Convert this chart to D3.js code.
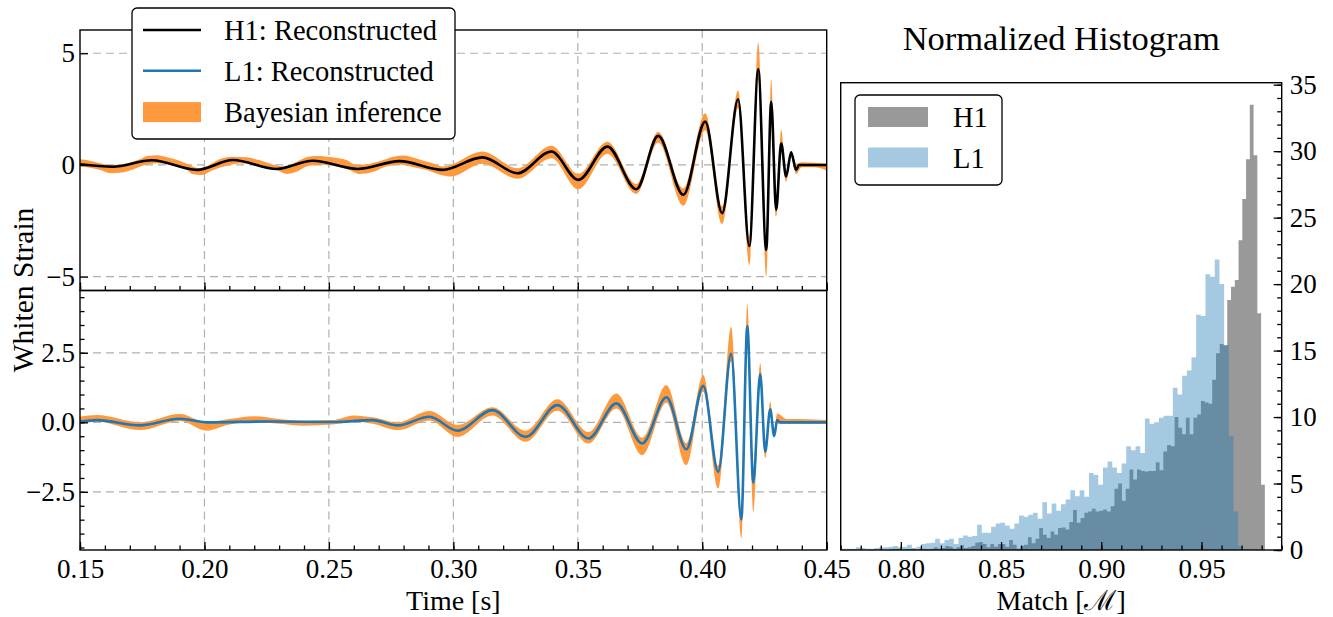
<!DOCTYPE html>
<html><head><meta charset="utf-8">
<script src="https://cdn.jsdelivr.net/npm/d3@7"></script>
<style>
body{margin:0;background:#fff;}
svg{display:block;font-family:"Liberation Serif","Times New Roman",serif;}
</style></head><body>
<svg id="c" width="1333" height="617"></svg>
<script>
// ---------------- DATA ----------------
const timeTicks = [0.15, 0.20, 0.25, 0.30, 0.35, 0.40, 0.45];
const h1YTicks = [-5, 0, 5];
const l1YTicks = [-2.5, 0, 2.5];
const histXTicks = [0.80, 0.85, 0.90, 0.95];
const histYTicks = [0, 5, 10, 15, 20, 25, 30, 35];

// H1 reconstructed waveform (extrema)
const h1T = [0.150,0.1632,0.1789,0.1970,0.2114,0.2291,0.2435,0.2616,0.2784,0.2957,0.3117,0.3258,0.3394,0.3502,0.3619,0.3735,0.3823,0.3924,0.4012,0.4080,0.4144,0.4189,0.4225,0.4257,0.4277,0.4297,0.4317,0.4337,0.4357,0.4377,0.4389,0.4500];
const h1V = [0.03,-0.08,0.21,-0.22,0.22,-0.18,0.19,-0.18,0.17,-0.22,0.34,-0.37,0.60,-0.67,0.82,-1.09,1.30,-1.34,1.94,-2.16,2.94,-3.63,4.28,-3.80,2.83,-2.01,0.97,-0.52,0.57,-0.22,0.0,0.0];
// H1 Bayesian band: upper edge
const h1BandHiT = [0.150,0.154,0.158,0.162,0.169,0.174,0.177,0.181,0.185,0.190,0.194,0.198,0.202,0.206,0.211,0.217,0.222,0.228,0.232,0.236,0.241,0.245,0.252,0.257,0.261,0.265,0.271,0.276,0.280,0.287,0.292,0.296,
  0.3117,0.3258,0.3394,0.3502,0.3619,0.3735,0.3823,0.3924,0.4012,0.4080,0.4144,0.4189,0.4225,0.4257,0.4277,0.4297,0.4317,0.4337,0.4357,0.4377,0.4400,0.4450,0.4500];
const h1BandHi = [0.25,0.19,0.08,0.00,0.08,0.25,0.40,0.43,0.34,0.19,0.00,-0.15,0.00,0.25,0.37,0.34,0.22,0.00,-0.07,0.08,0.34,0.40,0.33,0.22,0.00,0.03,0.19,0.37,0.42,0.22,0.07,-0.07,
  0.60,-0.15,0.86,-0.40,1.04,-0.85,1.49,-1.05,2.31,-1.85,3.33,-3.20,5.47,-3.30,3.84,-1.70,1.57,-0.35,0.60,0.05,0.12,0.10,0.05];
// H1 Bayesian band: lower edge
const h1BandLoT = [0.150,0.158,0.162,0.167,0.171,0.175,0.181,0.187,0.193,0.195,0.199,0.203,0.209,0.214,0.220,0.225,0.229,0.233,0.237,0.242,0.248,0.253,0.258,0.262,0.268,0.273,0.279,0.284,0.289,0.295,0.299,
  0.3117,0.3258,0.3394,0.3502,0.3619,0.3735,0.3823,0.3924,0.4012,0.4080,0.4144,0.4189,0.4225,0.4257,0.4277,0.4297,0.4317,0.4337,0.4357,0.4377,0.4400,0.4450,0.4500];
const h1BandLo = [-0.07,-0.22,-0.37,-0.34,-0.22,-0.04,0.08,0.01,-0.22,-0.40,-0.45,-0.25,-0.04,0.07,0.03,-0.07,-0.22,-0.40,-0.30,-0.04,0.01,-0.07,-0.22,-0.40,-0.30,-0.07,0.01,-0.10,-0.22,-0.45,-0.52,
  0.05,-0.62,0.30,-1.09,0.50,-1.30,1.00,-1.83,1.55,-2.64,2.55,-4.48,3.80,-5.01,2.40,-2.31,0.70,-0.75,0.35,-0.40,-0.10,-0.10,-0.25];

// L1 reconstructed waveform
const l1T = [0.150,0.1568,0.1741,0.1901,0.2010,0.2262,0.2515,0.2676,0.2776,0.2904,0.3017,0.3157,0.3290,0.3418,0.3543,0.3655,0.3759,0.3856,0.3936,0.4004,0.4064,0.4116,0.4157,0.4181,0.4205,0.4233,0.4253,0.4273,0.4289,0.4301,0.4313,0.4500];
const l1V = [0.02,0.08,-0.11,0.13,0.0,0.03,0.01,0.08,-0.11,0.20,-0.30,0.44,-0.52,0.62,-0.58,0.68,-0.76,0.90,-0.97,1.31,-1.78,2.46,-3.49,3.46,-2.17,1.74,-1.06,0.47,-0.49,0.08,0.0,0.0];
// L1 Bayesian band
const l1BandT  = [0.150,0.1568,0.1741,0.1901,0.2010,0.2100,0.2200,0.2300,0.2400,0.2515,0.2600,0.2676,0.2776,0.2904,0.3017,0.3157,0.3290,0.3418,0.3543,0.3655,0.3759,0.3856,0.3936,0.4004,0.4064,0.4116,0.4157,0.4181,0.4205,0.4233,0.4253,0.4273,0.4289,0.4301,0.4340,0.4400,0.4450,0.4500];
const l1BandHi = [0.20,0.26,0.00,0.30,0.00,0.12,0.22,0.12,0.05,0.08,0.25,0.18,0.00,0.41,-0.10,0.54,-0.30,0.83,-0.35,1.04,-0.55,1.34,-0.75,1.70,-1.55,3.44,-3.20,4.26,-1.90,2.12,-0.85,0.74,-0.30,0.32,0.12,0.12,0.10,0.08];
const l1BandLo = [-0.04,0.02,-0.28,0.05,-0.30,-0.08,0.00,-0.05,-0.12,-0.08,0.02,-0.05,-0.28,0.07,-0.52,0.25,-0.70,0.42,-0.76,0.50,-1.18,0.70,-1.54,1.10,-2.37,2.20,-4.17,3.15,-3.22,1.50,-1.29,0.30,-0.52,-0.05,-0.05,-0.05,-0.05,-0.05];

// Normalized histograms of the match
const h1HistStart = 0.7940, h1HistWidth = 0.001876;
const h1Hist = [0.05,0.1,0.1,0,0.05,0.05,0.1,0,0.05,0.1,
  0.05,0.1,0.2,0.1,0.15,0.3,0.25,0.1,0.2,0.35,
  0.15,0.2,0.3,0.55,0.6,0.45,
  0.2,0.45,0.25,0.45,0.45,0.25,0.75,0.4,0.1,0.3,
  0.4,0.95,0.5,0.85,1.65,1.15,0.9,1.4,1.15,1.65,
  1.7,1.55,2.1,3.0,2.05,2.4,2.8,2.9,3.1,2.9,
  2.95,3.05,2.9,3.3,4.6,5.0,3.7,4.6,6.05,
  5.3,6.05,5.95,5.9,5.95,5.95,6.6,6.0,7.4,7.9,
  7.8,10.0,9.2,8.7,9.95,8.7,9.95,10.2,11.2,11.1,
  11.0,12.8,14.8,15.5,15.4,18.8,19.8,20.3,23.3,26.4,
  29.4,33.5,29.7,17.8,4.9];
const l1HistStart = 0.7683, l1HistWidth = 0.002325;
const l1Hist = [0.1,0.1,0.1,0.1,0.2,0.15,0.1,0.1,0.15,0.2,
  0.2,0.25,0.3,0.2,0.25,0.4,0.15,0.25,0.45,0.5,
  0.55,0.85,0.5,0.75,0.85,0.45,0.9,1.1,1.0,1.05,
  1.9,1.3,1.3,1.75,2.0,2.05,1.85,1.6,2.0,2.6,
  2.5,2.65,2.8,2.35,3.6,2.75,3.5,2.95,3.45,3.8,
  4.5,4.05,4.5,4.0,5.8,5.65,4.9,6.2,6.65,6.2,
  5.8,6.5,7.8,7.5,7.8,7.3,9.9,9.5,9.6,9.95,
  10.1,10.1,12.2,11.7,13.1,13.5,14.5,17.7,17.6,20.75,
  20.55,21.85,20.0,15.4,8.6,2.9,0.3];

// ---------------- STYLE / LAYOUT ----------------
const ORANGE = "#ff993e", BLUE = "#1f77b4";
const TICK_FS = 27, LAB_FS = 28, LEG_FS = 28.5, YLAB_FS = 29.5, TITLE_FS = 34.5;
const svg = d3.select("#c");
const L = 80, R = 826.7, T1 = 30, MID = 290.5, B = 550;
const HL = 840.7, HR = 1281.7, HT = 82.7;

const xT = d3.scaleLinear().domain([0.15, 0.45]).range([L, R]);
const yTop = d3.scaleLinear().domain([-5.62, 6.04]).range([MID, T1]);
const yBot = d3.scaleLinear().domain([-4.59, 4.74]).range([B, MID]);
const xH = d3.scaleLinear().domain([0.77, 0.99]).range([HL, HR]);
const yH = d3.scaleLinear().domain([0, 35.15]).range([B, HT]);

const defs = svg.append("defs");
function clip(id, x, y, w, h) {
  defs.append("clipPath").attr("id", id).append("rect").attr("x", x).attr("y", y).attr("width", w).attr("height", h);
}
clip("cTop", L, T1, R - L, MID - T1);
clip("cBot", L, MID, R - L, B - MID);
clip("cHist", HL, HT, HR - HL, B - HT);

// grids
function grid(ys, yTicks, y0, y1) {
  const gg = svg.append("g").attr("stroke", "#b0b0b0").attr("stroke-width", 1.2).attr("stroke-dasharray", "8,5");
  timeTicks.slice(1, -1).forEach(t => gg.append("line").attr("x1", xT(t)).attr("x2", xT(t)).attr("y1", y0).attr("y2", y1));
  yTicks.forEach(v => gg.append("line").attr("x1", L).attr("x2", R).attr("y1", ys(v)).attr("y2", ys(v)));
}
grid(yTop, h1YTicks, T1, MID);
grid(yBot, l1YTicks, MID, B);

// waveform panels: band = area under upper edge, masked to remove area under lower edge
function panel(id, clipId, ys, y0, y1, hiT, hi, loT, lo, wT, wV, color) {
  const yBottom = y1 + 20;
  const mask = defs.append("mask").attr("id", id).attr("maskUnits", "userSpaceOnUse")
    .attr("x", L - 10).attr("y", y0 - 10).attr("width", R - L + 20).attr("height", y1 - y0 + 40);
  mask.append("rect").attr("x", L - 10).attr("y", y0 - 10).attr("width", R - L + 20).attr("height", y1 - y0 + 40).attr("fill", "#fff");
  const loPts = loT.map((t, i) => ({t, v: lo[i]}));
  mask.append("path").datum(loPts).attr("fill", "#000")
    .attr("d", d3.area().x(d => xT(d.t)).y0(yBottom).y1(d => ys(d.v)).curve(d3.curveMonotoneX));
  const g = svg.append("g").attr("clip-path", `url(#${clipId})`);
  const hiPts = hiT.map((t, i) => ({t, v: hi[i]}));
  g.append("path").datum(hiPts).attr("fill", ORANGE).attr("mask", `url(#${id})`)
    .attr("d", d3.area().x(d => xT(d.t)).y0(yBottom).y1(d => ys(d.v)).curve(d3.curveMonotoneX));
  const line = wT.map((t, i) => ({t, v: wV[i]}));
  g.append("path").datum(line).attr("fill", "none").attr("stroke", color).attr("stroke-width", 2.6)
    .attr("stroke-linejoin", "round")
    .attr("d", d3.line().x(d => xT(d.t)).y(d => ys(d.v)).curve(d3.curveMonotoneX));
}
panel("mTop", "cTop", yTop, T1, MID, h1BandHiT, h1BandHi, h1BandLoT, h1BandLo, h1T, h1V, "#000");
panel("mBot", "cBot", yBot, MID, B, l1BandT, l1BandHi, l1BandT, l1BandLo, l1T, l1V, BLUE);

// histogram
function hist(start, width, vals, fill, op) {
  const pts = vals.map((v, i) => ({x: start + i * width, v}));
  pts.push({x: start + vals.length * width, v: vals[vals.length - 1]});
  svg.append("path").attr("clip-path", "url(#cHist)").datum(pts)
    .attr("fill", fill).attr("fill-opacity", op)
    .attr("d", d3.area().x(d => xH(d.x)).y0(yH(0)).y1(d => yH(d.v)).curve(d3.curveStepAfter));
}
hist(h1HistStart, h1HistWidth, h1Hist, "#7f7f7f", 0.8);
hist(l1HistStart, l1HistWidth, l1Hist, BLUE, 0.4);

// axes helper
function styleAxis(g) {
  g.select(".domain").remove();
  g.selectAll(".tick line").attr("stroke", "#000").attr("stroke-width", 1.3);
  g.selectAll(".tick text").attr("font-size", TICK_FS).attr("font-family", "Liberation Serif, Times New Roman, serif").attr("fill", "#000");
  return g;
}
const minorX = d3.range(0.15, 0.4501, 0.01);
styleAxis(svg.append("g").attr("transform", `translate(0,${MID})`)
  .call(d3.axisBottom(xT).tickValues(timeTicks).tickSize(-8).tickFormat("")));
styleAxis(svg.append("g").attr("transform", `translate(0,${MID})`)
  .call(d3.axisBottom(xT).tickValues(minorX).tickSize(-4.5).tickFormat("")));
styleAxis(svg.append("g").attr("transform", `translate(0,${B})`)
  .call(d3.axisBottom(xT).tickValues(timeTicks).tickSize(-8).tickPadding(9).tickFormat(d3.format(".2f"))));
styleAxis(svg.append("g").attr("transform", `translate(0,${B})`)
  .call(d3.axisBottom(xT).tickValues(minorX).tickSize(-4.5).tickFormat("")));
styleAxis(svg.append("g").attr("transform", `translate(${L},0)`)
  .call(d3.axisLeft(yTop).tickValues(h1YTicks).tickSize(-8).tickPadding(5).tickFormat(d3.format("d"))));
styleAxis(svg.append("g").attr("transform", `translate(${L},0)`)
  .call(d3.axisLeft(yBot).tickValues(l1YTicks).tickSize(-8).tickPadding(5).tickFormat(d3.format(".1f"))));
styleAxis(svg.append("g").attr("transform", `translate(${L},0)`)
  .call(d3.axisLeft(yBot).tickValues(d3.range(-4.5, 4.51, 0.5)).tickSize(-4.5).tickFormat("")));
styleAxis(svg.append("g").attr("transform", `translate(0,${B})`)
  .call(d3.axisBottom(xH).tickValues(histXTicks).tickSize(-8).tickPadding(9).tickFormat(d3.format(".2f"))));
styleAxis(svg.append("g").attr("transform", `translate(0,${B})`)
  .call(d3.axisBottom(xH).tickValues(d3.range(0.77, 0.9901, 0.01)).tickSize(-4.5).tickFormat("")));
styleAxis(svg.append("g").attr("transform", `translate(${HR},0)`)
  .call(d3.axisRight(yH).tickValues(histYTicks).tickSize(-8).tickPadding(8).tickFormat(d3.format("d"))));
styleAxis(svg.append("g").attr("transform", `translate(${HR},0)`)
  .call(d3.axisRight(yH).tickValues(d3.range(0, 35.01, 1)).tickSize(-4.5).tickFormat("")));

// frames
[[L, T1, R - L, MID - T1], [L, MID, R - L, B - MID], [HL, HT, HR - HL, B - HT]].forEach(r =>
  svg.append("rect").attr("x", r[0]).attr("y", r[1]).attr("width", r[2]).attr("height", r[3])
    .attr("fill", "none").attr("stroke", "#000").attr("stroke-width", 1.4));

// labels
svg.append("text").attr("transform", "translate(33,290) rotate(-90)").attr("text-anchor", "middle")
  .attr("font-size", YLAB_FS).text("Whiten Strain");
svg.append("text").attr("x", (L + R) / 2).attr("y", 610).attr("text-anchor", "middle").attr("font-size", LAB_FS).text("Time [s]");
svg.append("text").attr("x", (HL + HR) / 2).attr("y", 610).attr("text-anchor", "middle").attr("font-size", LAB_FS).text("Match [ℳ]");
svg.append("text").attr("x", (HL + HR) / 2).attr("y", 50).attr("text-anchor", "middle").attr("font-size", TITLE_FS).text("Normalized Histogram");

// legend 1
const lg = svg.append("g");
lg.append("rect").attr("x", 132).attr("y", 8).attr("width", 323).attr("height", 131).attr("rx", 5)
  .attr("fill", "#fff").attr("stroke", "#000").attr("stroke-width", 1.3);
const leg1 = [{label: "H1: Reconstructed", type: "line", color: "#000"},
              {label: "L1: Reconstructed", type: "line", color: BLUE},
              {label: "Bayesian inference", type: "patch", color: ORANGE}];
leg1.forEach((d, i) => {
  const cy = 30 + i * 40.8;
  if (d.type === "line") lg.append("line").attr("x1", 143).attr("x2", 201).attr("y1", cy).attr("y2", cy).attr("stroke", d.color).attr("stroke-width", 2.6);
  else lg.append("rect").attr("x", 143).attr("y", cy - 9.5).attr("width", 58).attr("height", 20).attr("fill", d.color);
  lg.append("text").attr("x", 224).attr("y", cy + 10).attr("font-size", LEG_FS).text(d.label);
});
// legend 2
const lg2 = svg.append("g");
lg2.append("rect").attr("x", 855).attr("y", 95).attr("width", 147).attr("height", 90).attr("rx", 5)
  .attr("fill", "#fff").attr("stroke", "#000").attr("stroke-width", 1.3);
[{label: "H1", color: "#999999"}, {label: "L1", color: "#a5c9e1"}].forEach((d, i) => {
  const cy = 117 + i * 40.5;
  lg2.append("rect").attr("x", 868).attr("y", cy - 10).attr("width", 60).attr("height", 20).attr("fill", d.color);
  lg2.append("text").attr("x", 953).attr("y", cy + 10).attr("font-size", LEG_FS).text(d.label);
});
</script></body></html>
